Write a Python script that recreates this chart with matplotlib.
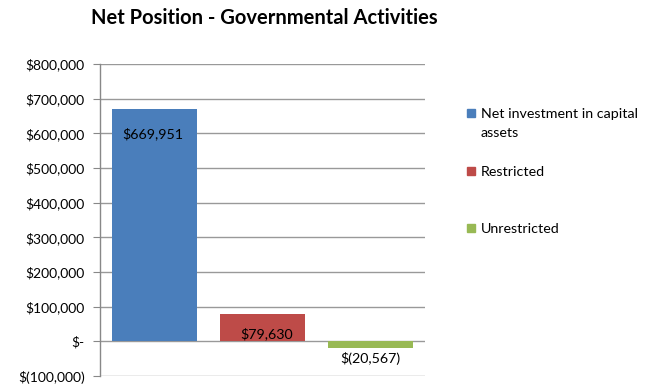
import matplotlib
matplotlib.use("Agg")
import matplotlib.pyplot as plt
from matplotlib.patches import Rectangle
from matplotlib.ticker import FuncFormatter

categories = ["Net investment in capital\nassets", "Restricted", "Unrestricted"]
values = [669951, 79630, -20567]
colors = ["#4A7EBB", "#BE4B48", "#98B954"]
title = "Net Position - Governmental Activities"

plt.rcParams['font.family'] = ['Lato', 'DejaVu Sans']

fig = plt.figure(figsize=(6.53, 3.84), dpi=100)
ax = fig.add_axes([100/653, 1-376/384, 325/653, 312/384])

x = list(range(len(values)))
bars = ax.bar(x, values, width=0.785, color=colors, zorder=3)
ax.set_xlim(-0.5, 2.5)
ax.set_ylim(-100000, 800000)
ax.set_yticks(range(-100000, 800001, 100000))

def fmt(v, pos=None):
    v = int(round(v))
    if v == 0:
        return "$-"
    if v < 0:
        return "$({:,})".format(-v)
    return "${:,}".format(v)

ax.yaxis.set_major_formatter(FuncFormatter(fmt))
ax.tick_params(axis='y', length=5, color='#888888', labelsize=10, pad=6)
ax.tick_params(axis='x', length=0, labelbottom=False)
ax.grid(axis='y', color='#999999', linewidth=1.0, zorder=0)
for s in ['top', 'right', 'bottom']:
    ax.spines[s].set_visible(False)
ax.spines['left'].set_color('#888888')
ax.spines['left'].set_linewidth(1.0)

# data labels
offsets = [(-1, -25), (4, -20), (0, -10)]
for i, (b, v) in enumerate(zip(bars, values)):
    cx = b.get_x() + b.get_width()/2
    ax.annotate(fmt(v), (cx, v), xytext=offsets[i], textcoords='offset pixels',
                ha='center', va='center', fontsize=10.3, zorder=5)

fig.text(264/653, 1-18/384, title, ha='center', va='center', fontsize=14.5, fontweight='bold')

# legend
ys = [113, 171, 228]
for c, lab, yy in zip(colors, categories, ys):
    fig.add_artist(Rectangle((467/653, 1-(yy+4)/384), 8/653, 8/384, transform=fig.transFigure,
                             color=c))
    for k, line in enumerate(lab.split("\n")):
        fig.text(481/653, 1-(yy + 1 + 19*k)/384, line, ha='left', va='center', fontsize=10.3)

fig.savefig("out.png", dpi=100)
